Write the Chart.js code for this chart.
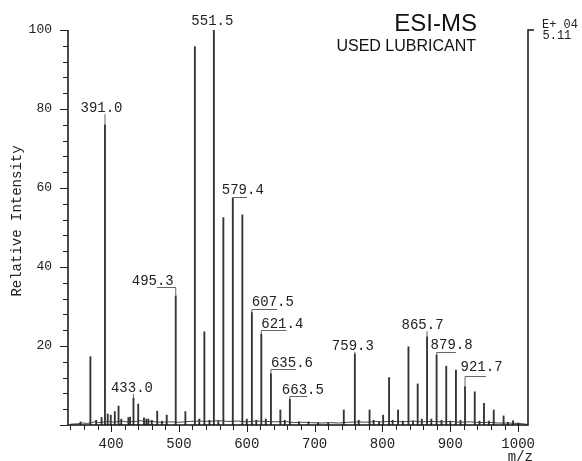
<!DOCTYPE html>
<html><head><meta charset="utf-8">
<script src="https://cdn.jsdelivr.net/npm/chart.js@4.4.1/dist/chart.umd.min.js"></script>
<style>html,body{margin:0;padding:0;background:#fff;}canvas{display:block;}</style>
</head><body>
<canvas id="c" width="582" height="461"></canvas>
<script>
// ---------- data ----------
const peakMz = [
  355, 369.5, 378, 386, 391.0, 395, 399.5, 405.5, 411, 415,
  425.5, 428, 433.0, 440, 448.5, 452, 455, 460, 468, 475,
  482, 495.3, 509.5, 523.5, 530, 537.5, 545, 551.5, 558, 565.5,
  579.4, 593.5, 600, 607.5, 614, 621.4, 628, 635.6, 649.5, 656,
  663.5, 677, 691, 705, 720, 743, 759.3, 765, 781, 787,
  795, 801, 809.7, 815, 823, 830, 838.3, 845, 851.9, 858,
  865.7, 872, 879.8, 887, 894, 900, 908.3, 915, 921.7, 936,
  943, 949.6, 957, 964, 978.5, 985, 992.5, 1000
];
const peakIntensity = [
  0.8, 17.3, 1.2, 1.9, 76, 2.8, 2.5, 3.4, 4.8, 1.5,
  1.9, 2.0, 6.8, 5.3, 1.8, 1.5, 1.5, 1.2, 3.5, 1.0,
  2.5, 32.7, 3.4, 95.8, 1.5, 23.6, 1.2, 100, 1.0, 52.5,
  57.5, 53.2, 1.5, 28.5, 1.2, 23, 1.5, 13, 3.8, 1.2,
  6.5, 0.8, 0.8, 0.6, 0.6, 3.8, 18, 1.2, 3.8, 1.2,
  0.8, 2.5, 12, 1.2, 3.8, 1.0, 19.8, 1.0, 10.4, 1.5,
  22.3, 1.5, 17.7, 1.2, 14.9, 1.0, 13.9, 1.2, 9.7, 8.4,
  1.0, 5.5, 1.0, 3.8, 2.3, 0.7, 1.1, 0.5
];
const baselineMz = [340, 350, 358, 365, 376, 382, 398, 403, 416, 422, 437, 444, 451, 460, 472, 486, 500, 515, 530, 545,
  558, 572, 587, 600, 614, 628, 642, 656, 670, 682, 695, 708, 722, 735, 750, 765, 775, 790, 797, 815,
  830, 845, 858, 872, 887, 900, 915, 930, 943, 957, 970, 985, 1000, 1012];
const baselineIntensity = [0.2, 0.3, 0.5, 0.4, 0.8, 0.6, 0.9, 0.7, 1.0, 0.8, 0.9, 1.1, 0.8, 0.9, 0.7, 0.8, 0.7, 0.9, 1.0, 0.9,
  1.1, 0.9, 1.0, 0.8, 1.0, 0.9, 0.8, 0.9, 0.6, 0.7, 0.6, 0.5, 0.6, 0.5, 0.7, 0.8, 0.7, 0.9, 0.8, 0.9,
  0.8, 1.0, 0.8, 0.9, 0.8, 0.9, 0.7, 0.8, 0.6, 0.7, 0.5, 0.5, 0.4, 0.2];
const labelMz = [391.0, 433.0, 495.3, 551.5, 579.4, 607.5, 621.4, 635.6, 663.5, 759.3, 865.7, 879.8, 921.7];
const xTickLabels = [400, 500, 600, 700, 800, 900, 1000];
const yTickLabels = [20, 40, 60, 80, 100];
const titleText = 'ESI-MS';
const subtitleText = 'USED LUBRICANT';
const xTitle = 'm/z';
const yTitle = 'Relative Intensity';
const scaleNote = ['E+ 04', '5.11'];

// ---------- label placement (layout only) ----------
// dx: text left offset from peak (px); ty: text centre (y units); by: bracket level (y units) or null
const labelLayout = [
  {dx:-24.5, ty:80.2, by:null, conn:true},
  {dx:-22.5, ty:9.4,  by:null, conn:true},
  {dx:-44,   ty:36.3, by:34.9},
  {dx:-22.5, ty:102.1,by:null, conn:false},
  {dx:-11,   ty:59.3, by:57.8},
  {dx:0,     ty:31.0, by:29.4},
  {dx:0,     ty:25.5, by:24.0},
  {dx:0,     ty:15.6, by:14.1},
  {dx:-8,    ty:8.9,  by:7.3},
  {dx:-23,   ty:20.0, by:null, conn:true},
  {dx:-25.5, ty:25.3, by:null, conn:true},
  {dx:-6,    ty:20.3, by:18.6},
  {dx:-4.5,  ty:14.5, by:12.5}
];

const MONO = '"Liberation Mono", "DejaVu Sans Mono", monospace';
const SANS = '"Liberation Sans", Arial, sans-serif';

const deco = {
  id: 'deco',
  afterDatasetsDraw(chart) {
    const {ctx, chartArea: a, scales: {x, y}} = chart;
    ctx.save();
    // axes frame
    ctx.strokeStyle = '#111';
    ctx.lineWidth = 1.5;
    ctx.beginPath();
    ctx.moveTo(a.left, y.getPixelForValue(100));
    ctx.lineTo(a.left, a.bottom);
    ctx.lineTo(a.right, a.bottom);
    ctx.lineTo(a.right, a.top);
    ctx.lineTo(a.right + 6, a.top);
    ctx.stroke();
    // ticks
    ctx.lineWidth = 1;
    ctx.strokeStyle = '#222';
    ctx.beginPath();
    for (let v = 0; v <= 100; v += 4) {
      const py = Math.round(y.getPixelForValue(v)) + 0.5;
      const len = v % 20 === 0 ? 8 : 5;
      ctx.moveTo(a.left - len, py); ctx.lineTo(a.left, py);
    }
    for (let v = 340; v <= 1000; v += 20) {
      const px = Math.round(x.getPixelForValue(v)) + 0.5;
      const len = v % 100 === 0 ? 7 : 5;
      ctx.moveTo(px, a.bottom); ctx.lineTo(px, a.bottom + len);
    }
    ctx.stroke();

    // peak labels
    ctx.font = '14px ' + MONO;
    ctx.fillStyle = '#222';
    ctx.textBaseline = 'middle';
    ctx.textAlign = 'left';
    const cw3 = ctx.measureText('000').width;
    labelMz.forEach((m, i) => {
      const L = labelLayout[i];
      const txt = m.toFixed(1);
      const px = x.getPixelForValue(m);
      const idx = peakMz.indexOf(m);
      const top = y.getPixelForValue(peakIntensity[idx]);
      const tl = px + L.dx;
      const ty = y.getPixelForValue(L.ty);
      ctx.fillText(txt, tl, ty);
      ctx.strokeStyle = '#666';
      ctx.lineWidth = 1;
      ctx.beginPath();
      if (L.by !== null) {
        const by = Math.round(y.getPixelForValue(L.by)) + 0.5;
        const hx = tl + cw3;
        ctx.moveTo(hx, by); ctx.lineTo(px, by); ctx.lineTo(px, top);
      } else if (L.conn) {
        ctx.moveTo(px, ty + 6); ctx.lineTo(px, top);
      }
      ctx.stroke();
    });

    // titles
    ctx.fillStyle = '#111';
    ctx.textAlign = 'right';
    ctx.font = '24px ' + SANS;
    ctx.fillText(titleText, 477, 24);
    ctx.font = '16px ' + SANS;
    ctx.fillText(subtitleText, 476, 46.5);

    // scale note
    ctx.textAlign = 'left';
    ctx.font = '12px ' + MONO;
    ctx.fillStyle = '#222';
    ctx.fillText(scaleNote[0], 542, 24.5);
    ctx.fillText(scaleNote[1], 542.5, 35.5);

    // axis titles
    ctx.font = '14px ' + MONO;
    ctx.textAlign = 'right';
    ctx.fillText(xTitle, 533, 457.5);
    ctx.save();
    ctx.translate(17.5, 221);
    ctx.rotate(-Math.PI / 2);
    ctx.textAlign = 'center';
    ctx.fillText(yTitle, 0, 0);
    ctx.restore();
    ctx.restore();
  }
};

new Chart(document.getElementById('c'), {
  type: 'bar',
  data: {
    datasets: [
      {
        type: 'bar',
        data: peakMz.map((m, i) => ({x: m, y: peakIntensity[i]})),
        backgroundColor: '#333',
        borderWidth: 0,
        barThickness: 1.2,
        grouped: false,
        order: 1
      },
      {
        type: 'line',
        data: baselineMz.map((m, i) => ({x: m, y: baselineIntensity[i]})),
        borderColor: '#444',
        borderWidth: 1,
        pointRadius: 0,
        tension: 0,
        order: 2
      }
    ]
  },
  options: {
    responsive: false,
    animation: false,
    events: [],
    layout: {padding: {top: 30, right: 54, left: 0, bottom: 0}},
    plugins: {legend: {display: false}, tooltip: {enabled: false}},
    scales: {
      x: {
        type: 'linear', min: 336.5, max: 1014.5, offset: false,
        grid: {display: false, drawTicks: false},
        border: {display: false},
        afterBuildTicks: s => { s.ticks = xTickLabels.map(v => ({value: v})); },
        afterFit: s => { s.height = 36; },
        ticks: {padding: 11, maxRotation: 0, autoSkip: false, color: '#222',
          font: {family: MONO, size: 14}, callback: v => String(v)}
      },
      y: {
        min: 0, max: 100,
        grid: {display: false, drawTicks: false},
        border: {display: false},
        afterBuildTicks: s => { s.ticks = yTickLabels.map(v => ({value: v})); },
        afterFit: s => { s.width = 68; },
        ticks: {padding: 16, color: '#222', font: {family: MONO, size: 13}, callback: v => String(v)}
      }
    }
  },
  plugins: [deco]
});
</script>
</body></html>
